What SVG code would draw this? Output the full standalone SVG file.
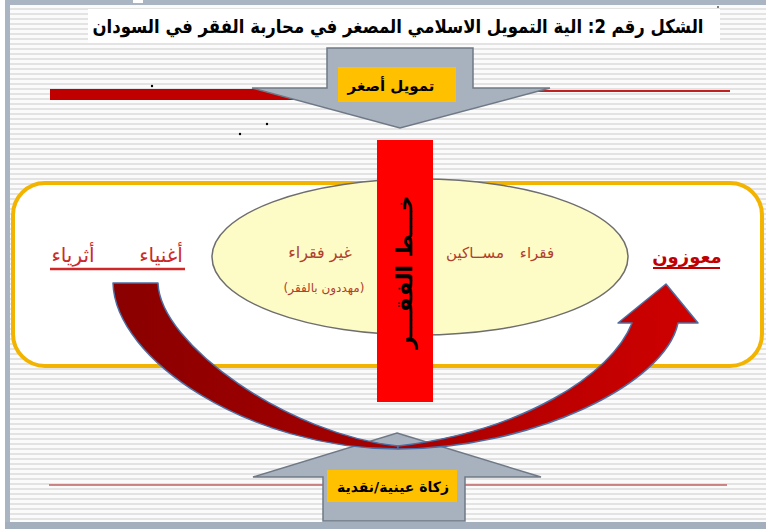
<svg xmlns="http://www.w3.org/2000/svg" width="766" height="529" viewBox="0 0 766 529">
<defs>
<pattern id="stripes" width="8" height="5" patternUnits="userSpaceOnUse"><rect width="8" height="5" fill="#fbfbfb"/><rect y="3" width="8" height="2" fill="#e3e3e3"/></pattern>
<linearGradient id="arcg" gradientUnits="userSpaceOnUse" x1="110" y1="0" x2="700" y2="0"><stop offset="0" stop-color="#8a0000"/><stop offset="0.5" stop-color="#a80000"/><stop offset="1" stop-color="#d00000"/></linearGradient>
<style>
.arr{fill:#a8b2bf;stroke:#6f7986;stroke-width:1.5;stroke-linejoin:miter}
.lbl{fill:#ffc000}
.lt{font-family:"DejaVu Sans",sans-serif;font-weight:bold;fill:#000;text-anchor:middle;direction:rtl}
.et{font-family:"DejaVu Sans",sans-serif;fill:#b0402c;text-anchor:middle;direction:rtl}
.rt{font-family:"DejaVu Sans",sans-serif;fill:#cc2a2a;text-anchor:middle;direction:rtl}
.arc{fill:url(#arcg);stroke:#4d6ea3;stroke-width:1.5;stroke-linejoin:round}
</style>
</defs>
<rect width="766" height="529" fill="#ffffff"/>
<rect x="9" y="0" width="757" height="529" fill="url(#stripes)"/>
<rect x="5" y="0" width="5" height="529" fill="#a9b5c3"/>
<rect x="5" y="0" width="761" height="5" fill="#a9b5c3"/>
<rect x="5" y="522" width="761" height="7" fill="#a3afbd"/>
<rect x="133" y="0" width="10" height="3" fill="#ffffff"/>
<g id="title">
<rect x="88" y="9" width="632" height="34" fill="#ffffff"/>
<text x="398" y="33" class="lt" font-size="19" textLength="611" lengthAdjust="spacingAndGlyphs">الشكل رقم 2: الية التمويل الاسلامي المصغر في محاربة الفقر في السودان</text>
<circle cx="718" cy="7" r="1" fill="#555"/>
</g>
<g id="red-lines-top">
<rect x="50" y="89" width="260" height="11" fill="#c00000"/>
<line x1="400" y1="91" x2="730" y2="91" stroke="#c02020" stroke-width="2"/>
</g>
<g id="dots" fill="#000">
<circle cx="152" cy="86" r="1.2"/>
<circle cx="267" cy="124" r="1.2"/>
<circle cx="240" cy="134" r="1.2"/>
</g>
<g id="arrow-top">
<path class="arr" d="M327 48 L473 48 L473 88 L550 88 L400 128 L252 88 L327 88 Z"/>
<rect class="lbl" x="338" y="67" width="118" height="35"/>
<text x="391" y="91" class="lt" font-size="15">تمويل أصغر</text>
</g>
<g id="zone">
<rect x="13" y="183" width="749" height="183" rx="32" ry="32" fill="#ffffff" stroke="#f2b400" stroke-width="4"/>
</g>
<g id="ellipse">
<ellipse cx="420" cy="257" rx="208" ry="78" fill="#fdfcc6" stroke="#6e6e6e" stroke-width="1.5"/>
<text x="320" y="258" class="et" font-size="16">غير فقراء</text>
<text x="324" y="292" class="et" font-size="12">(مهددون بالفقر)</text>
<text x="537" y="258" class="et" font-size="15">فقراء</text>
<text x="475" y="258" class="et" font-size="15">مســاكين</text>
</g>
<g id="poverty-line">
<rect x="377" y="140" width="56" height="262" fill="#ff0000"/>
<text transform="translate(412,272) rotate(-90)" class="lt" font-size="22">خـــط الفقـــر</text>
</g>
<g id="rich">
<text x="161" y="262" class="rt" font-size="20">أغنياء</text>
<text x="73" y="262" class="rt" font-size="20">أثرياء</text>
<line x1="50" y1="269" x2="185" y2="269" stroke="#d02828" stroke-width="2.5"/>
</g>
<g id="needy">
<text x="687" y="263" font-family="DejaVu Sans,sans-serif" font-weight="bold" font-size="18" fill="#c00000" text-anchor="middle" direction="rtl">معوزون</text>
<line x1="653" y1="268" x2="720" y2="268" stroke="#c00000" stroke-width="2"/>
</g>
<g id="arrow-bottom">
<line x1="49" y1="485" x2="727" y2="485" stroke="#c06060" stroke-width="1.5"/>
<path class="arr" d="M397 433 L541 477 L465 477 L465 521 L323 521 L323 477 L253 477 Z"/>
<rect class="lbl" x="327" y="470" width="130" height="32"/>
<text x="393" y="492" class="lt" font-size="14">زكاة عينية/نقدية</text>
</g>
<g id="connectors">
<path class="arc" d="M113 283 L158 283 C160 345 290 435 398 446 L398 449 C250 449 115 360 113 283 Z"/>
<path class="arc" d="M398 446 C520 432 612 375 632 323 L618 323 L666 284 L698 323 L678 323 C665 385 530 449 398 449 Z"/>
</g>
</svg>
